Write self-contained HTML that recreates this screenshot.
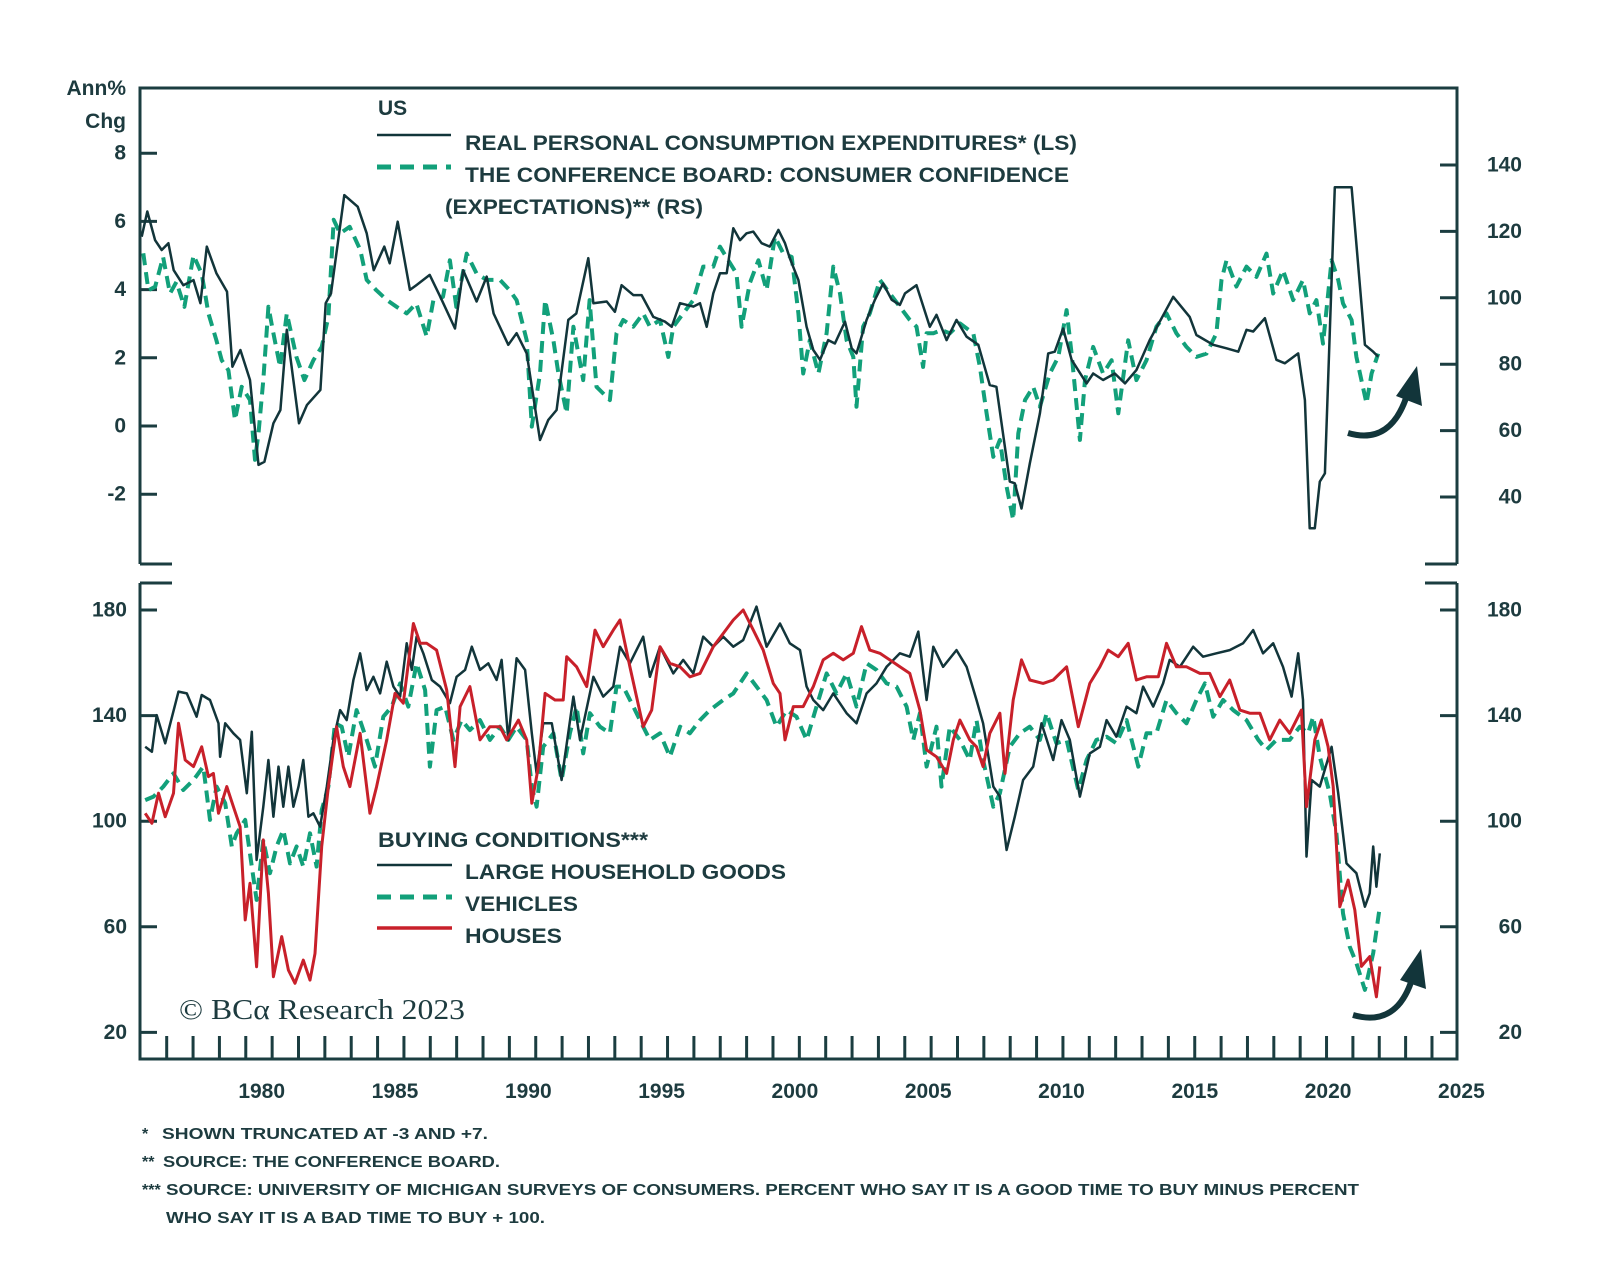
<!DOCTYPE html>
<html>
<head>
<meta charset="utf-8">
<style>
  html, body { margin: 0; padding: 0; background: #ffffff; }
  svg { display: block; }
  .lbl { font-family: "Liberation Sans", sans-serif; font-weight: bold; fill: #1d3b3f; }
  .foot { font-family: "Liberation Sans", sans-serif; font-weight: bold; fill: #1d3b3f; font-size: 16px; }
</style>
</head>
<body>
<svg id="chart" width="1600" height="1286" viewBox="0 0 1600 1286" xmlns="http://www.w3.org/2000/svg">
  <rect x="0" y="0" width="1600" height="1286" fill="#ffffff"/>

  <!-- Top panel frame -->
  <g stroke="#1b3d40" stroke-width="3" fill="none">
    <polyline points="140,564 140,88 1457,88 1457,564"/>
    <line x1="140" y1="564" x2="172" y2="564"/>
    <line x1="1425" y1="564" x2="1457" y2="564"/>
  </g>
  <!-- Bottom panel frame -->
  <g stroke="#1b3d40" stroke-width="3" fill="none">
    <polyline points="140,583 140,1059 1457,1059 1457,583"/>
    <line x1="140" y1="583" x2="172" y2="583"/>
    <line x1="1425" y1="583" x2="1457" y2="583"/>
  </g>

  <g id="axes"></g>
  <g id="series"></g>

  <!-- Axis unit label -->
  <text class="lbl" x="126" y="95" font-size="21" text-anchor="end">Ann%</text>
  <text class="lbl" x="126" y="128" font-size="21" text-anchor="end">Chg</text>

  <!-- Top legend -->
  <g>
    <text class="lbl" x="378" y="115" font-size="21">US</text>
    <line x1="377" y1="135" x2="451" y2="135" stroke="#12353a" stroke-width="2.5"/>
    <text class="lbl" x="465" y="150" font-size="21" textLength="612" lengthAdjust="spacingAndGlyphs">REAL PERSONAL CONSUMPTION EXPENDITURES* (LS)</text>
    <line x1="377" y1="167" x2="451" y2="167" stroke="#12a07a" stroke-width="5" stroke-dasharray="14,9"/>
    <text class="lbl" x="465" y="182" font-size="21" textLength="604" lengthAdjust="spacingAndGlyphs">THE CONFERENCE BOARD: CONSUMER CONFIDENCE</text>
    <text class="lbl" x="445" y="214" font-size="21" textLength="258" lengthAdjust="spacingAndGlyphs">(EXPECTATIONS)** (RS)</text>
  </g>

  <!-- Bottom legend -->
  <g>
    <text class="lbl" x="378" y="847" font-size="21" textLength="270" lengthAdjust="spacingAndGlyphs">BUYING CONDITIONS***</text>
    <line x1="377" y1="865" x2="452" y2="865" stroke="#12353a" stroke-width="2.5"/>
    <text class="lbl" x="465" y="879" font-size="21" textLength="321" lengthAdjust="spacingAndGlyphs">LARGE HOUSEHOLD GOODS</text>
    <line x1="377" y1="897" x2="452" y2="897" stroke="#12a07a" stroke-width="5" stroke-dasharray="14,9"/>
    <text class="lbl" x="465" y="911" font-size="21" textLength="113" lengthAdjust="spacingAndGlyphs">VEHICLES</text>
    <line x1="377" y1="928" x2="452" y2="928" stroke="#c8202a" stroke-width="3.5"/>
    <text class="lbl" x="465" y="943" font-size="21" textLength="97" lengthAdjust="spacingAndGlyphs">HOUSES</text>
  </g>

  <!-- Copyright -->
  <text x="179" y="1019" font-family="Liberation Serif, serif" font-size="29" fill="#1d3b3f" textLength="286" lengthAdjust="spacingAndGlyphs">© BCα Research 2023</text>

  <!-- Arrows -->
  <g>
    <path d="M1348,433 Q1392,446 1408,392" stroke="#12353a" stroke-width="6" fill="none"/>
    <polygon points="1417,366 1396,396 1422,406" fill="#12353a"/>
  </g>
  <g>
    <path d="M1353,1015 Q1398,1028 1413,976" stroke="#12353a" stroke-width="6" fill="none"/>
    <polygon points="1421,949 1400,980 1426,989" fill="#12353a"/>
  </g>

  <!-- Footnotes -->
  <g>
    <text class="foot" x="142" y="1139">*</text>
    <text class="foot" x="162" y="1139" textLength="326" lengthAdjust="spacingAndGlyphs">SHOWN TRUNCATED AT -3 AND +7.</text>
    <text class="foot" x="142" y="1167">**</text>
    <text class="foot" x="163" y="1167" textLength="337" lengthAdjust="spacingAndGlyphs">SOURCE: THE CONFERENCE BOARD.</text>
    <text class="foot" x="142" y="1195">***</text>
    <text class="foot" x="166" y="1195" textLength="1193" lengthAdjust="spacingAndGlyphs">SOURCE: UNIVERSITY OF MICHIGAN SURVEYS OF CONSUMERS. PERCENT WHO SAY IT IS A GOOD TIME TO BUY MINUS PERCENT</text>
    <text class="foot" x="166" y="1223" textLength="379" lengthAdjust="spacingAndGlyphs">WHO SAY IT IS A BAD TIME TO BUY + 100.</text>
  </g>
</svg>

<script>
// ---------- DATA ----------
const yearLabels = [1980, 1985, 1990, 1995, 2000, 2005, 2010, 2015, 2020, 2025];
const lsTicks = [8, 6, 4, 2, 0, -2];
const rsTicks = [140, 120, 100, 80, 60, 40];
const bottomTicks = [180, 140, 100, 60, 20];

const pceYears = [1975.5,1975.71,1976.0,1976.25,1976.5,1976.7,1977.06,1977.44,1977.7,1977.94,1978.3,1978.7,1978.9,1979.2,1979.56,1979.88,1980.1,1980.44,1980.7,1980.94,1981.4,1981.7,1982.2,1982.4,1982.6,1983.1,1983.6,1983.94,1984.2,1984.6,1984.8,1985.1,1985.56,1985.8,1986.3,1986.7,1987.25,1987.56,1988.06,1988.44,1988.7,1989.25,1989.56,1989.94,1990.44,1990.75,1991.06,1991.5,1991.8,1992.25,1992.44,1992.94,1993.25,1993.5,1993.94,1994.25,1994.69,1995.13,1995.38,1995.69,1996.19,1996.44,1996.69,1996.94,1997.19,1997.44,1997.69,1997.94,1998.19,1998.44,1998.75,1999.06,1999.38,1999.63,1999.81,2000.13,2000.44,2000.69,2000.94,2001.25,2001.5,2001.88,2002.13,2002.31,2002.69,2003.0,2003.31,2003.63,2003.94,2004.13,2004.56,2005.06,2005.31,2005.69,2006.06,2006.44,2006.88,2007.31,2007.56,2008.06,2008.25,2008.5,2008.81,2009.19,2009.5,2009.75,2010.06,2010.38,2010.94,2011.19,2011.56,2012.0,2012.38,2012.81,2013.31,2014.19,2014.81,2015.06,2015.69,2016.19,2016.63,2016.94,2017.19,2017.63,2018.06,2018.38,2018.88,2019.13,2019.31,2019.5,2019.69,2019.88,2020.25,2020.88,2021.38,2021.69,2021.88];
const pceVals = [5.55,6.29,5.45,5.16,5.36,4.57,4.13,4.28,3.6,5.26,4.48,3.94,1.74,2.23,1.35,-1.14,-1.05,0.08,0.47,2.82,0.08,0.62,1.06,3.6,3.89,6.77,6.43,5.65,4.57,5.26,4.77,5.99,3.99,4.13,4.43,3.79,2.86,4.57,3.65,4.38,3.3,2.38,2.72,2.13,-0.41,0.18,0.47,3.11,3.3,4.92,3.6,3.65,3.35,4.13,3.84,3.84,3.2,3.06,2.91,3.6,3.5,3.6,2.91,3.89,4.48,4.48,5.8,5.45,5.65,5.7,5.36,5.26,5.75,5.36,4.92,4.28,2.91,2.23,1.94,2.52,2.42,3.06,2.28,2.13,3.11,3.7,4.18,3.7,3.55,3.89,4.13,2.91,3.26,2.52,3.11,2.62,2.38,1.2,1.15,-1.63,-1.68,-2.42,-1.1,0.37,2.13,2.18,2.86,1.94,1.25,1.54,1.35,1.54,1.25,1.64,2.52,3.79,3.2,2.67,2.38,2.28,2.18,2.82,2.77,3.16,1.94,1.84,2.13,0.76,-3.0,-3.0,-1.63,-1.39,7.0,7.0,2.38,2.18,2.03];

const confYears = [1975.56,1975.75,1976.0,1976.3,1976.56,1976.8,1977.1,1977.44,1977.75,1978.0,1978.3,1978.5,1978.75,1979.0,1979.25,1979.56,1979.75,1979.88,1980.06,1980.25,1980.44,1980.69,1980.94,1981.3,1981.6,1981.94,1982.25,1982.5,1982.7,1982.94,1983.3,1983.7,1983.94,1984.3,1984.7,1985.06,1985.44,1985.8,1986.19,1986.44,1986.8,1987.06,1987.3,1987.69,1988.06,1988.44,1988.94,1989.3,1989.56,1989.94,1990.13,1990.44,1990.63,1990.94,1991.13,1991.44,1991.69,1992.06,1992.3,1992.56,1993.06,1993.31,1993.56,1993.94,1994.31,1994.56,1994.94,1995.25,1995.44,1995.81,1996.19,1996.56,1996.94,1997.19,1997.5,1997.81,1998.0,1998.31,1998.63,1998.94,1999.25,1999.56,1999.88,2000.13,2000.31,2000.56,2000.88,2001.19,2001.44,2001.69,2001.94,2002.19,2002.31,2002.56,2002.81,2003.19,2003.56,2003.94,2004.31,2004.56,2004.81,2004.94,2005.19,2005.5,2005.81,2006.19,2006.69,2006.94,2007.19,2007.44,2007.69,2007.94,2008.19,2008.38,2008.63,2008.94,2009.19,2009.56,2009.88,2010.19,2010.38,2010.69,2010.88,2011.19,2011.56,2011.88,2012.13,2012.5,2012.81,2013.19,2013.56,2013.94,2014.31,2014.69,2015.06,2015.44,2015.81,2016.0,2016.19,2016.56,2016.94,2017.31,2017.69,2017.94,2018.31,2018.69,2019.06,2019.31,2019.56,2019.81,2020.13,2020.38,2020.56,2020.88,2021.06,2021.25,2021.44,2021.63,2021.88];
const confVals = [113.4,102.3,103.3,112.3,101.3,104.8,97.3,112.8,107.3,95.3,87.2,81.2,78.2,63.2,73.2,69.2,51.2,59.2,75.2,97.3,89.3,79.2,95.3,82.2,75.2,81.2,85.2,94.3,123.5,119.4,121.4,114.4,105.4,102.3,99.3,97.3,95.3,98.3,88.3,99.3,100.3,111.3,97.3,113.3,107.3,105.4,105.4,102.3,99.3,87.2,61.2,77.2,99.3,87.2,77.2,65.2,91.3,75.2,99.3,73.2,69.2,89.3,93.3,91.3,95.3,91.3,93.3,82.2,91.3,95.3,99.3,109.4,109.4,115.4,111.3,107.3,91.3,104.4,111.3,102.3,118.4,113.4,112.3,95.3,77.2,87.2,77.2,89.3,109.4,101.3,87.2,82.2,67.2,91.3,95.3,105.4,101.3,97.3,93.3,91.3,79.2,89.3,89.3,90.3,89.3,92.3,89.3,79.2,65.2,52.1,57.2,43.1,33.1,59.2,69.2,73.2,67.2,77.2,82.2,96.3,83.2,57.2,75.2,85.2,77.2,81.2,65.2,87.2,75.2,81.2,91.3,95.3,89.3,85.2,82.2,83.2,89.3,105.4,111.3,103.4,109.4,106.3,113.3,101.3,108.3,99.3,105.4,95.3,99.3,86.2,111.3,105.4,98.3,93.3,82.2,75.2,68.2,77.2,83.2];

const goodsYears = [1975.63,1975.88,1976.06,1976.38,1976.88,1977.19,1977.56,1977.75,1978.06,1978.38,1978.44,1978.63,1978.94,1979.19,1979.44,1979.63,1979.81,1980.06,1980.25,1980.44,1980.63,1980.81,1981.0,1981.19,1981.38,1981.56,1981.75,1981.94,1982.19,1982.44,1982.69,1982.94,1983.19,1983.44,1983.69,1983.94,1984.19,1984.44,1984.69,1984.94,1985.19,1985.44,1985.63,1985.81,1986.06,1986.38,1986.69,1987.06,1987.31,1987.63,1987.88,1988.19,1988.5,1988.81,1989.0,1989.25,1989.56,1989.88,1990.13,1990.31,1990.56,1990.88,1991.25,1991.69,1991.94,1992.44,1992.81,1993.19,1993.44,1993.81,1994.31,1994.56,1994.94,1995.44,1995.81,1996.19,1996.56,1996.94,1997.31,1997.69,1998.06,1998.56,1998.94,1999.44,1999.81,2000.19,2000.44,2000.69,2001.06,2001.44,2001.94,2002.31,2002.69,2003.06,2003.44,2003.94,2004.31,2004.63,2004.94,2005.19,2005.56,2006.06,2006.44,2006.81,2007.06,2007.44,2007.69,2007.94,2008.25,2008.56,2008.94,2009.25,2009.69,2010.0,2010.31,2010.69,2011.06,2011.44,2011.69,2012.06,2012.44,2012.81,2013.06,2013.44,2013.81,2014.06,2014.44,2014.94,2015.31,2015.81,2016.31,2016.81,2017.19,2017.56,2017.94,2018.31,2018.63,2018.88,2019.06,2019.19,2019.38,2019.69,2020.13,2020.38,2020.69,2021.06,2021.38,2021.56,2021.69,2021.81,2021.94];
const goodsVals = [128.2,126.3,140.2,129.5,149.1,148.4,139.6,147.8,145.9,137.1,124.4,137.1,133.3,130.8,110.6,133.9,85.3,105.5,123.2,101.7,120.7,105.5,120.7,105.5,113.1,123.2,101.7,103.0,97.9,113.1,130.8,142.1,138.3,153.5,163.6,149.7,154.7,148.4,160.4,151.0,147.2,167.4,157.3,169.9,163.6,153.5,151.0,144.7,154.7,157.3,166.1,157.3,159.8,153.5,161.1,130.8,161.7,157.3,133.3,118.1,137.1,137.1,115.6,147.2,130.8,154.7,147.2,151.0,166.1,159.8,169.9,154.7,166.1,156.0,161.1,156.0,169.9,166.1,169.9,166.1,168.6,181.3,166.1,174.9,167.4,164.8,151.0,145.9,142.1,148.4,140.9,137.1,148.4,152.2,158.5,163.6,162.3,171.8,145.9,166.1,158.5,164.8,158.5,145.9,137.1,113.1,109.3,89.1,101.7,115.6,120.7,137.1,123.2,138.3,130.8,109.3,125.7,128.2,138.3,132.0,143.4,140.9,151.0,143.4,152.2,161.1,158.5,166.1,162.3,163.6,164.8,167.4,172.4,163.6,167.4,158.5,147.2,163.6,145.9,86.6,115.6,113.1,128.2,110.6,84.0,80.3,67.6,72.7,90.4,75.2,87.8];

const vehYears = [1975.63,1975.94,1976.31,1976.69,1977.06,1977.44,1977.81,1978.06,1978.31,1978.63,1978.88,1979.06,1979.38,1979.63,1979.81,1980.06,1980.31,1980.56,1980.81,1981.06,1981.31,1981.56,1981.81,1982.06,1982.25,1982.5,1982.75,1983.0,1983.25,1983.56,1983.94,1984.25,1984.56,1984.88,1985.19,1985.5,1985.81,1986.13,1986.31,1986.56,1986.88,1987.19,1987.5,1987.81,1988.19,1988.56,1988.94,1989.25,1989.56,1989.94,1990.13,1990.31,1990.56,1990.94,1991.25,1991.56,1991.81,1992.06,1992.31,1992.69,1993.06,1993.31,1993.56,1993.94,1994.31,1994.56,1994.94,1995.31,1995.69,1996.06,1996.44,1996.81,1997.31,1997.69,1998.19,1998.56,1998.94,1999.31,1999.69,2000.06,2000.44,2000.81,2001.19,2001.56,2001.94,2002.31,2002.69,2003.06,2003.44,2003.81,2004.19,2004.44,2004.69,2004.94,2005.31,2005.5,2005.81,2006.19,2006.56,2006.81,2007.06,2007.44,2007.69,2008.06,2008.44,2008.81,2009.19,2009.44,2009.81,2010.19,2010.63,2010.94,2011.31,2011.69,2012.06,2012.44,2012.88,2013.19,2013.56,2013.94,2014.31,2014.69,2015.06,2015.38,2015.69,2016.06,2016.44,2016.94,2017.38,2017.69,2018.06,2018.56,2018.94,2019.25,2019.44,2019.69,2020.06,2020.31,2020.56,2020.81,2021.06,2021.38,2021.69,2021.94];
const vehVals = [108.0,109.3,113.1,118.1,111.8,115.6,120.7,100.5,113.1,106.8,90.4,95.4,100.5,82.8,70.2,92.9,80.3,90.4,96.7,84.0,90.4,82.8,95.4,82.8,104.2,113.1,137.1,135.8,124.4,142.1,130.8,120.7,139.6,143.4,152.2,143.4,159.8,149.7,120.7,142.1,143.4,130.8,138.3,134.5,138.3,130.8,135.8,130.8,135.8,130.8,113.1,105.5,128.2,133.3,115.6,133.3,143.4,125.7,140.9,135.8,133.3,151.0,151.0,143.4,135.8,130.8,133.3,124.4,135.8,133.3,138.3,142.1,145.9,148.4,156.0,151.0,145.9,135.8,142.1,139.6,130.8,143.4,156.0,148.4,156.0,143.4,159.8,157.3,152.2,151.0,143.4,130.8,140.9,120.7,135.8,113.1,135.8,130.8,123.2,138.3,123.2,105.5,110.6,128.2,133.3,135.8,130.8,140.9,129.5,130.8,111.8,123.2,130.8,132.0,129.5,138.3,120.7,133.3,133.3,145.9,140.9,137.1,145.9,152.2,139.6,145.9,142.1,138.3,130.8,127.0,130.8,130.8,135.8,133.3,139.6,124.4,110.6,95.4,65.1,52.5,46.2,36.1,50.0,67.6];

const houseYears = [1975.63,1975.88,1976.13,1976.38,1976.69,1976.88,1977.13,1977.44,1977.75,1978.0,1978.19,1978.38,1978.69,1978.94,1979.19,1979.38,1979.56,1979.81,1980.06,1980.25,1980.44,1980.75,1981.0,1981.25,1981.56,1981.81,1982.0,1982.25,1982.5,1982.81,1983.06,1983.31,1983.69,1984.06,1984.31,1984.69,1985.0,1985.31,1985.69,1985.94,1986.19,1986.56,1986.94,1987.25,1987.44,1987.81,1988.19,1988.56,1988.94,1989.19,1989.63,1989.94,1990.13,1990.38,1990.63,1991.0,1991.31,1991.44,1991.81,1992.19,1992.5,1992.81,1993.19,1993.44,1993.81,1994.31,1994.63,1994.94,1995.31,1995.69,1996.06,1996.44,1996.94,1997.31,1997.69,1998.06,1998.44,1998.81,1999.19,1999.44,1999.63,1999.94,2000.31,2000.69,2001.06,2001.44,2001.81,2002.19,2002.5,2002.81,2003.19,2003.56,2003.94,2004.31,2004.69,2004.94,2005.31,2005.69,2005.94,2006.19,2006.56,2006.81,2007.06,2007.31,2007.69,2007.88,2008.19,2008.5,2008.81,2009.31,2009.69,2010.19,2010.63,2011.06,2011.44,2011.75,2012.13,2012.5,2012.81,2013.19,2013.63,2013.94,2014.31,2014.69,2015.19,2015.56,2015.94,2016.31,2016.69,2017.06,2017.44,2017.81,2018.19,2018.56,2019.0,2019.19,2019.5,2019.75,2020.0,2020.19,2020.44,2020.75,2021.0,2021.25,2021.56,2021.81,2021.94];
const houseVals = [103.0,99.2,110.6,101.7,110.6,137.1,123.2,120.7,128.2,116.9,118.1,103.0,113.1,105.5,97.9,62.6,76.5,44.9,92.9,72.7,41.1,56.3,43.6,38.6,47.4,39.8,49.9,90.4,113.1,135.8,120.7,113.1,133.3,103.0,113.1,130.8,148.4,144.7,174.9,167.4,167.4,164.8,149.7,120.7,143.4,151.0,130.8,135.8,135.8,130.8,138.3,130.8,106.8,120.7,148.4,145.9,145.9,162.3,158.5,151.0,172.4,166.1,172.4,176.2,158.5,135.8,142.1,166.1,159.8,158.5,154.7,156.0,166.1,171.1,176.2,180.0,172.4,164.8,152.2,148.4,130.8,143.4,143.4,151.0,161.1,163.6,161.1,163.6,173.7,164.8,163.6,161.1,158.5,156.0,142.1,127.0,124.4,118.1,130.8,138.3,130.8,128.2,120.7,133.3,140.9,118.1,145.9,161.1,153.5,152.2,153.5,158.5,135.8,152.2,158.5,164.8,162.3,167.4,153.5,154.7,154.7,167.4,158.5,158.5,156.0,156.0,147.2,153.5,142.1,140.9,140.9,130.8,138.3,133.3,142.1,105.5,130.8,138.3,128.2,113.1,67.6,77.7,66.4,45.0,48.7,33.5,45.0];

// ---------- SCALES ----------
function xOf(yr) { return 261.7 + (yr - 1980) * 26.66; }
function yLS(v) { return 426 - 34.1 * v; }
function yRS(v) { return 165 + (140 - v) * 3.32; }
function yB(v) { return 610 + (180 - v) * 2.64; }

const NS = 'http://www.w3.org/2000/svg';
const axes = document.getElementById('axes');
const series = document.getElementById('series');
const INK = '#1b3d40';

function mk(tag, attrs, parent) {
  const el = document.createElementNS(NS, tag);
  for (const k in attrs) el.setAttribute(k, attrs[k]);
  parent.appendChild(el);
  return el;
}
function label(x, y, txt, anchor, parent) {
  const t = mk('text', {x: x, y: y, 'text-anchor': anchor, 'class': 'lbl', 'font-size': 21, 'dominant-baseline': 'central'}, parent);
  t.textContent = txt;
  return t;
}

// left ticks (top panel)
lsTicks.forEach(function (v) {
  const y = yLS(v);
  const tk = mk('line', {x1: 140, y1: y, x2: 157, y2: y, stroke: INK, 'stroke-width': 3}, axes);
  
  
  const t = label(126, y, String(v), 'end', axes);
  
  
});
// right ticks (top panel)
rsTicks.forEach(function (v) {
  const y = yRS(v);
  const tk = mk('line', {x1: 1440, y1: y, x2: 1457, y2: y, stroke: INK, 'stroke-width': 3}, axes);
  
  
  const t = label(1522, y, String(v), 'end', axes);
  
  
});
// bottom panel ticks both sides
bottomTicks.forEach(function (v) {
  const y = yB(v);
  const tl = mk('line', {x1: 140, y1: y, x2: 157, y2: y, stroke: INK, 'stroke-width': 3}, axes);
  
  
  const tr = mk('line', {x1: 1440, y1: y, x2: 1457, y2: y, stroke: INK, 'stroke-width': 3}, axes);
  
  
  const a = label(127, y, String(v), 'end', axes);
  
  
  const b = label(1522, y, String(v), 'end', axes);
  
  
});
// yearly x ticks
for (let k = 0; k <= 48; k++) {
  const x = 166.7 + k * 26.36;
  const tk = mk('line', {x1: x, y1: 1036, x2: x, y2: 1059, stroke: INK, 'stroke-width': 3}, axes);
  
  
}
yearLabels.forEach(function (yr) {
  const t = mk('text', {x: xOf(yr), y: 1098, 'text-anchor': 'middle', 'class': 'lbl', 'font-size': 21}, axes);
  t.textContent = String(yr);
  
  
});

// clip paths
const defs = mk('defs', {}, document.getElementById('chart'));
const c1 = mk('clipPath', {id: 'clipTop'}, defs);
mk('rect', {x: 141, y: 89, width: 1315, height: 474}, c1);
const c2 = mk('clipPath', {id: 'clipBot'}, defs);
mk('rect', {x: 141, y: 584, width: 1315, height: 474}, c2);

function drawLine(xs, vs, yfn, color, width, dash, clip, name) {
  let d = '';
  for (let i = 0; i < xs.length; i++) {
    d += (i === 0 ? 'M' : 'L') + xOf(xs[i]).toFixed(1) + ',' + yfn(vs[i]).toFixed(1);
  }
  const attrs = {d: d, fill: 'none', stroke: color, 'stroke-width': width, 'stroke-linejoin': 'round', 'clip-path': 'url(#' + clip + ')'};
  if (dash) attrs['stroke-dasharray'] = dash;
  const p = mk('path', attrs, series);
  
  
  return p;
}

drawLine(confYears, confVals, yRS, '#12a07a', 4, '12,7', 'clipTop', 'confidence-line');
drawLine(pceYears, pceVals, yLS, '#12353a', 2.5, null, 'clipTop', 'pce-line');
drawLine(vehYears, vehVals, yB, '#12a07a', 4, '12,7', 'clipBot', 'vehicles-line');
drawLine(goodsYears, goodsVals, yB, '#12353a', 2.5, null, 'clipBot', 'household-goods-line');
drawLine(houseYears, houseVals, yB, '#c8202a', 3, null, 'clipBot', 'houses-line');
</script>
</body>
</html>
